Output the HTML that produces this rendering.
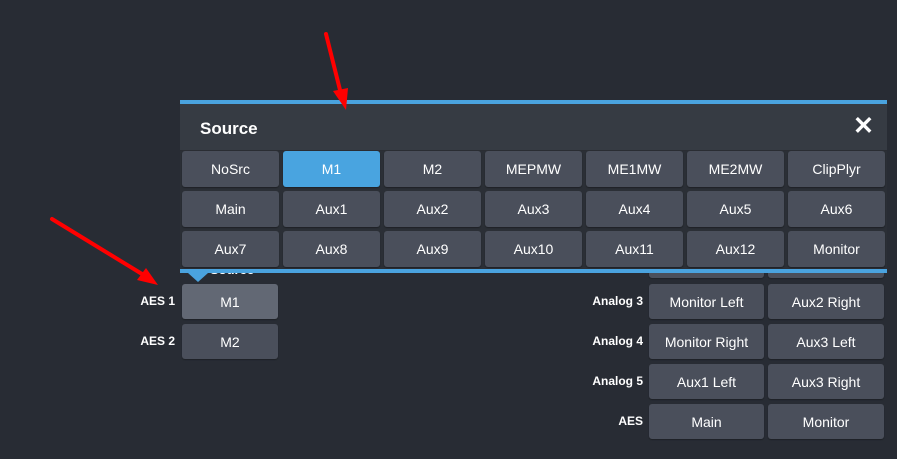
<!DOCTYPE html>
<html><head><meta charset="utf-8"><style>
body{margin:0;width:897px;height:459px;background:#282c34;overflow:hidden;position:relative;font-family:"Liberation Sans",sans-serif}
.b{position:absolute;background:#4a4f5b;border-radius:3px;color:#fff;font-size:14px;display:flex;align-items:center;justify-content:center;box-shadow:0 1px 1px #1e2126}
.l{position:absolute;color:#fff;font-weight:bold;font-size:12px;text-align:right;width:80px}
</style></head><body>
<div class="b" style="left:649px;top:262px;width:115px;height:16px"></div>
<div class="b" style="left:768px;top:262px;width:116px;height:16px"></div>
<div class="l" style="left:563px;top:294px">Analog 3</div>
<div class="l" style="left:563px;top:334px">Analog 4</div>
<div class="l" style="left:563px;top:374px">Analog 5</div>
<div class="l" style="left:563px;top:414px">AES</div>
<div class="b" style="left:649px;top:284px;width:115px;height:35px">Monitor Left</div>
<div class="b" style="left:768px;top:284px;width:116px;height:35px">Aux2 Right</div>
<div class="b" style="left:649px;top:324px;width:115px;height:35px">Monitor Right</div>
<div class="b" style="left:768px;top:324px;width:116px;height:35px">Aux3 Left</div>
<div class="b" style="left:649px;top:364px;width:115px;height:35px">Aux1 Left</div>
<div class="b" style="left:768px;top:364px;width:116px;height:35px">Aux3 Right</div>
<div class="b" style="left:649px;top:404px;width:115px;height:35px">Main</div>
<div class="b" style="left:768px;top:404px;width:116px;height:35px">Monitor</div>
<div class="l" style="left:95px;top:294px">AES 1</div>
<div class="l" style="left:95px;top:334px">AES 2</div>
<div class="b" style="left:182px;top:284px;width:96px;height:35px;background:#626874">M1</div>
<div class="b" style="left:182px;top:324px;width:96px;height:35px">M2</div>
<div style="position:absolute;left:210px;top:262px;color:#fff;font-weight:bold;font-size:13px">Source</div>
<div style="position:absolute;left:180px;top:100px;width:707px;height:173px;background:#2b2f36;border-top:4px solid #4aa3df;border-bottom:4px solid #4aa3df;box-sizing:border-box">
 <div style="position:absolute;left:0;top:0;width:707px;height:46px;background:#363b43;border-bottom:1px solid #2a2d33"></div>
 <div style="position:absolute;left:20px;top:15px;color:#fff;font-weight:bold;font-size:17px">Source</div>
 <div style="position:absolute;left:673px;top:7px;color:#fff;font-weight:bold;font-size:25px">✕</div>
</div>
<div style="position:absolute;left:188px;top:273px;width:0;height:0;border-left:10px solid transparent;border-right:10px solid transparent;border-top:9px solid #4aa3df"></div>
<div id="g"></div>
<script>
var n=[["NoSrc","M1","M2","MEPMW","ME1MW","ME2MW","ClipPlyr"],["Main","Aux1","Aux2","Aux3","Aux4","Aux5","Aux6"],["Aux7","Aux8","Aux9","Aux10","Aux11","Aux12","Monitor"]];
var h="";
for(var r=0;r<3;r++)for(var c=0;c<7;c++){
 h+='<div class="b" style="left:'+(182+c*101)+'px;top:'+(151+r*40)+'px;width:97px;height:36px;'+(r==0&&c==1?'background:#49a4e0':'')+'">'+n[r][c]+'</div>';}
document.getElementById("g").outerHTML=h;
</script>
<svg style="position:absolute;left:0;top:0" width="897" height="459">
 <line x1="326" y1="34" x2="340" y2="90" stroke="#f00" stroke-width="4" stroke-linecap="round"/>
 <polygon points="333,91 348,88 346,110" fill="#f00"/>
 <line x1="52" y1="219" x2="142" y2="274" stroke="#f00" stroke-width="4" stroke-linecap="round"/>
 <polygon points="137,280 146,268 158,285" fill="#f00"/>
</svg>
</body></html>
